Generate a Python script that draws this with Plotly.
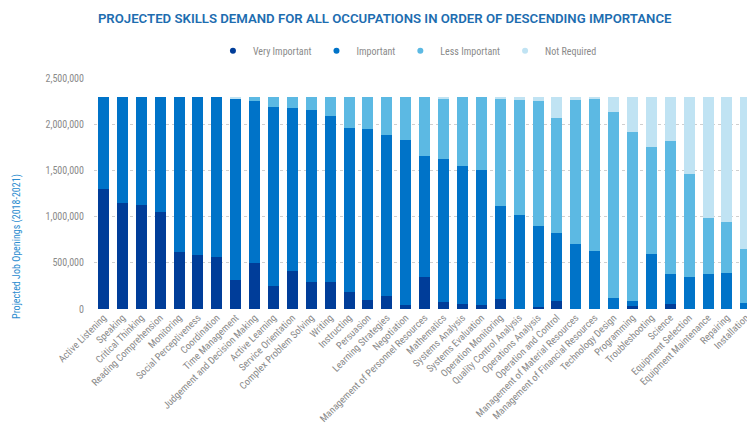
import plotly.graph_objects as go

skills = [
    "Active Listening", "Speaking", "Critical Thinking", "Reading Comprehension",
    "Monitoring", "Social Perceptiveness", "Coordination", "Time Management",
    "Judgement and Decision Making", "Active Learning", "Service Orientation",
    "Complex Problem Solving", "Writing", "Instructing", "Persuasion",
    "Learning Strategies", "Negotiation", "Management of Personnel Resources",
    "Mathematics", "Systems Analysis", "Systems Evaluation", "Operation Monitoring",
    "Quality Control Analysis", "Operations Analysis", "Operation and Control",
    "Management of Material Resources", "Management of Financial Resources",
    "Technology Design", "Programming", "Troubleshooting", "Science",
    "Equipment Selection", "Equipment Maintenance", "Repairing", "Installation",
]

very_important = [
    1303000, 1145000, 1127000, 1045000, 612000, 583000, 562000, 319000,
    497000, 251000, 412000, 295000, 290000, 179000, 93000, 140000, 43000,
    351000, 72000, 57000, 47000, 107000, 0, 21000, 89000, 0, 0, 0, 36000,
    0, 57000, 0, 0, 0, 0,
]
important = [
    991000, 1149000, 1167000, 1249000, 1682000, 1711000, 1732000, 1961000,
    1754000, 1932000, 1760000, 1860000, 1797000, 1779000, 1850000, 1743000,
    1786000, 1310000, 1556000, 1493000, 1460000, 1003000, 1016000, 874000,
    731000, 705000, 630000, 122000, 50000, 594000, 319000, 344000, 383000,
    394000, 61000,
]
less_important = [
    0, 0, 0, 0, 0, 0, 0, 0, 43000, 111000, 122000, 139000, 207000, 336000,
    351000, 411000, 465000, 633000, 648000, 744000, 787000, 1166000, 1246000,
    1356000, 1245000, 1557000, 1639000, 2008000, 1825000, 1160000, 1446000,
    1113000, 601000, 551000, 583000,
]
not_required = [
    0, 0, 0, 0, 0, 0, 0, 14000, 0, 0, 0, 0, 0, 0, 0, 0, 0, 0, 18000, 0, 0,
    18000, 32000, 43000, 229000, 32000, 25000, 164000, 383000, 540000,
    472000, 837000, 1310000, 1349000, 1650000,
]

series_names = ["Very Important", "Important", "Less Important", "Not Required"]
series_values = [very_important, important, less_important, not_required]
colors = ["#003d99", "#0073c8", "#5cb9e3", "#c0e3f3"]

FONT = "Liberation Sans Narrow, Roboto Condensed, DejaVu Sans Condensed, Roboto, sans-serif"

fig = go.Figure()
for name, vals, col in zip(series_names, series_values, colors):
    fig.add_trace(go.Bar(
        x=skills, y=vals, name=name, marker=dict(color=col, line=dict(width=0)),
        showlegend=False,
    ))
for name, col in zip(series_names, colors):
    fig.add_trace(go.Scatter(
        x=[None], y=[None], mode="markers", name=name,
        marker=dict(color=col, size=6, symbol="circle"),
    ))

fig.update_layout(
    width=747, height=423,
    barmode="stack", bargap=0.42,
    paper_bgcolor="white", plot_bgcolor="white",
    margin=dict(l=94, r=0, t=78, b=114),
    font=dict(family=FONT, color="#888888", size=10),
    title=dict(
        text="PROJECTED SKILLS DEMAND FOR ALL OCCUPATIONS IN ORDER OF DESCENDING IMPORTANCE",
        x=0.515, xanchor="center", y=0.957, yanchor="middle",
        font=dict(family="Roboto, sans-serif", size=13.2, color="#1d6db0", weight=600),
    ),
    legend=dict(
        orientation="h", x=0.48, xanchor="center", y=1.118, yanchor="middle",
        font=dict(size=10, color="#8a8a8a"), itemwidth=30,
        traceorder="normal",
    ),
    xaxis=dict(
        range=[-0.5, 34.06], tickangle=-45, showgrid=False, zeroline=False,
        showline=False, tickfont=dict(size=10, color="#8a8a8a"),
        ticks="", automargin=False,
    ),
    yaxis=dict(
        range=[0, 2500000], tickvals=[0, 500000, 1000000, 1500000, 2000000, 2500000],
        tickformat=",d", showgrid=True, gridcolor="#cfcfcf", griddash="dot",
        gridwidth=1, zeroline=False, showline=False,
        ticks="outside", ticklen=7, tickcolor="rgba(0,0,0,0)",
        tickfont=dict(size=10, color="#8a8a8a"), automargin=False,
    ),
)

fig.add_annotation(
    text="Projected Job Openings (2018-2021)", xref="paper", yref="paper",
    x=-0.118, y=0.273, xanchor="center", yanchor="middle", textangle=-90,
    showarrow=False, font=dict(size=10, color="#2b8ccf", family=FONT),
)

fig.write_html("out.html")
